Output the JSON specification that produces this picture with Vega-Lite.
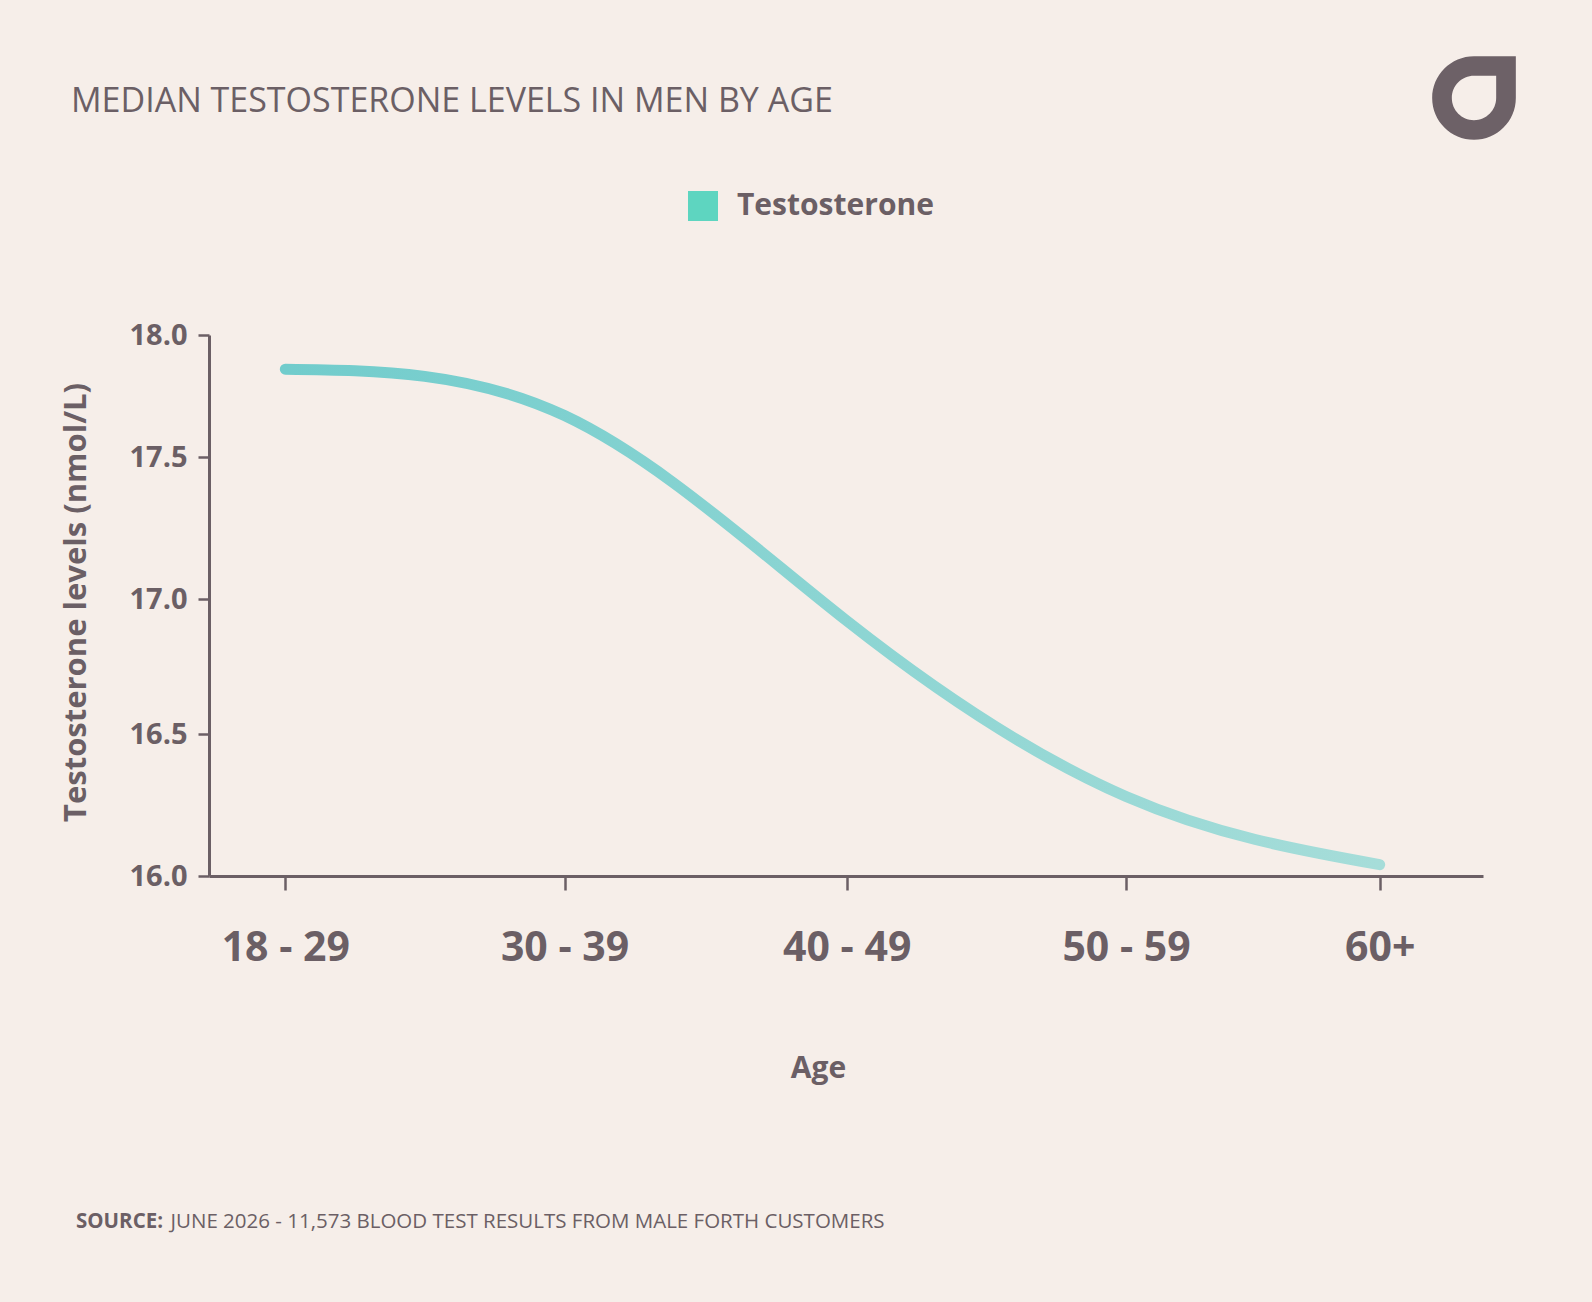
{
  "$schema": "https://vega.github.io/schema/vega-lite/v6.json",
  "width": 1274,
  "height": 541,
  "autosize": {"type": "none"},
  "padding": {"left": 209, "top": 335, "right": 109, "bottom": 426},
  "background": "#f6eee9",
  "config": {
    "view": {"stroke": null},
    "legend": {"padding": 0, "offset": 0},
    "axis": {"grid": false, "domainColor": "#6b5f65", "tickColor": "#6b5f65", "labelColor": "#6b5f65", "titleColor": "#6b5f65", "labelFont": "Open Sans", "titleFont": "Open Sans"}
  },
  "layer": [
    {
      "data": {"values": [
        {"age": "18 - 29", "age_start": 18, "testosterone": 17.86},
        {"age": "30 - 39", "age_start": 30, "testosterone": 17.67},
        {"age": "40 - 49", "age_start": 40, "testosterone": 16.92},
        {"age": "50 - 59", "age_start": 50, "testosterone": 16.28},
        {"age": "60+", "age_start": 60, "testosterone": 16.04}
      ]},
      "mark": {
        "type": "line",
        "interpolate": "natural",
        "strokeWidth": 11,
        "strokeCap": "round",
        "color": {"gradient": "linear", "x1": 0, "y1": 0, "x2": 1, "y2": 0,
          "stops": [{"offset": 0, "color": "#71cccc"}, {"offset": 1, "color": "#a6ddd9"}]}
      },
      "encoding": {
        "x": {
          "field": "age_start", "type": "quantitative",
          "scale": {"domain": [15, 18, 30, 40, 50, 60, 64], "range": [0, 76.3, 355.5, 637.7, 917, 1170.7, 1274], "nice": false, "zero": false},
          "axis": {
            "values": [18, 30, 40, 50, 60],
            "labelExpr": "datum.value == 18 ? '18 - 29' : datum.value == 30 ? '30 - 39' : datum.value == 40 ? '40 - 49' : datum.value == 50 ? '50 - 59' : '60+'",
            "domainWidth": 3, "tickWidth": 2.5, "tickSize": 14,
            "labelFontSize": 41, "labelFontWeight": 700, "labelPadding": 38, "labelBaseline": "top",
            "labelFlush": false, "labelOverlap": false,
            "title": "Age", "titleFontSize": 30, "titleFontWeight": 700,
            "titleX": 609, "titleY": 201, "titleAlign": "center", "titleBaseline": "alphabetic", "titleAnchor": null
          }
        },
        "y": {
          "field": "testosterone", "type": "quantitative",
          "scale": {"domain": [16, 16.5, 17, 17.5, 18], "range": [541, 399, 264.2, 122.1, 0], "nice": false, "zero": false},
          "axis": {
            "values": [16, 16.5, 17, 17.5, 18], "format": ".1f",
            "domainWidth": 3, "tickWidth": 2.5, "tickSize": 11,
            "labelFontSize": 29, "labelFontWeight": 700, "labelPadding": 11, "labelBaseline": "middle",
            "labelFlush": false, "labelOverlap": false,
            "title": "Testosterone levels (nmol/L)", "titleFontSize": 31, "titleFontWeight": 700,
            "titleX": -133, "titleY": 267, "titleAngle": -90, "titleAlign": "center", "titleBaseline": "middle", "titleAnchor": null
          }
        }
      }
    },
    {
      "data": {"values": []},
      "mark": {"type": "square", "opacity": 1},
      "encoding": {
        "color": {
          "datum": "Testosterone", "type": "nominal",
          "scale": {"range": ["#5ed5c0"]},
          "legend": {
            "orient": "none", "legendX": 479, "legendY": -144, "title": null,
            "symbolType": "square", "symbolSize": 900, "symbolStrokeWidth": 0, "symbolOpacity": 1,
            "labelFont": "Open Sans", "labelFontSize": 30, "labelFontWeight": 700, "labelColor": "#6b5f65", "labelOffset": 19, "labelLimit": 1000
          }
        }
      }
    },
    {
      "data": {"values": []},
      "mark": {"type": "point", "filled": true, "color": "#6d6167", "opacity": 1},
      "encoding": {
        "shape": {
          "datum": "logo", "type": "nominal",
          "scale": {"range": ["M1,-1 L1,0 A1,1 0 0 1 0,1 A1,1 0 0 1 -1,0 A1,1 0 0 1 0,-1 Z M0.53,-0.53 L0,-0.53 A0.53,0.53 0 0 0 -0.53,0 A0.53,0.53 0 0 0 0,0.53 A0.53,0.53 0 0 0 0.53,0 Z"]},
          "legend": {
            "orient": "none", "legendX": 1223, "legendY": -279, "title": null,
            "symbolSize": 7000, "symbolFillColor": "#6d6167", "symbolStrokeWidth": 0, "symbolOpacity": 1,
            "labelExpr": "''"
          }
        }
      }
    },
    {
      "data": {"values": []},
      "mark": {"type": "point", "filled": true, "color": "transparent", "opacity": 0.001},
      "encoding": {
        "size": {
          "datum": "title", "type": "nominal",
          "legend": {
            "orient": "none", "legendX": -138, "legendY": -250,
            "title": "MEDIAN TESTOSTERONE LEVELS IN MEN BY AGE",
            "titleFont": "Open Sans", "titleFontSize": 34, "titleFontWeight": 400, "titleColor": "#6b5f65", "titleLimit": 3000,
            "labelExpr": "''", "symbolOpacity": 0, "symbolFillColor": "transparent", "symbolStrokeColor": "transparent"
          }
        },
        "strokeWidth": {
          "datum": "JUNE 2026 - 11,573 BLOOD TEST RESULTS FROM MALE FORTH CUSTOMERS", "type": "nominal",
          "legend": {
            "orient": "none", "legendX": -133, "legendY": 877,
            "title": "SOURCE:", "titleOrient": "left",
            "titleFont": "Open Sans", "titleFontSize": 20.5, "titleFontWeight": 700, "titleColor": "#6b5f65", "titlePadding": -14,
            "labelFont": "Open Sans", "labelFontSize": 20.5, "labelFontWeight": 400, "labelColor": "#6b5f65", "labelLimit": 3000, "labelOffset": 0,
            "symbolSize": 0, "symbolOpacity": 0, "symbolFillColor": "transparent", "symbolStrokeColor": "transparent"
          }
        }
      }
    }
  ]
}
